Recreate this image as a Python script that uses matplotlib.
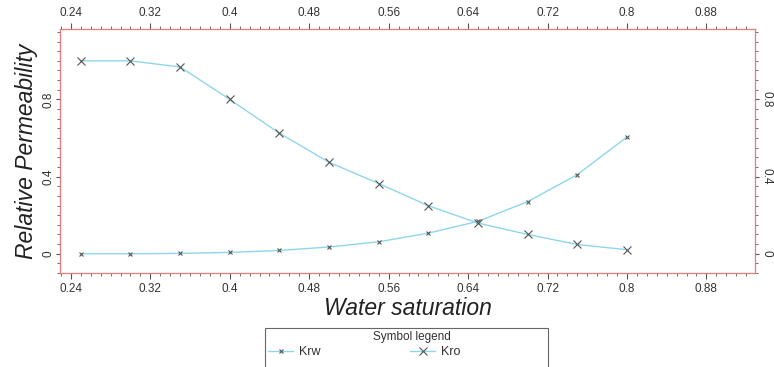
import matplotlib.pyplot as plt
from matplotlib.patches import Rectangle
from matplotlib.ticker import MultipleLocator

plt.rcParams["font.family"] = ["Liberation Sans", "DejaVu Sans"]

# Relative permeability table
sw = [0.25, 0.30, 0.35, 0.40, 0.45, 0.50, 0.55, 0.60, 0.65, 0.70, 0.75, 0.80]
krw = [0.0, 0.0, 0.002, 0.007, 0.017, 0.035, 0.062, 0.107, 0.168, 0.27, 0.41, 0.605]
kro = [1.0, 1.0, 0.968, 0.80, 0.625, 0.474, 0.364, 0.249, 0.159, 0.10, 0.048, 0.021]

line_color = "#8fd6ec"
mark_color = "#555555"
frame_color = "#e87a7a"
text_color = "#333333"

fig = plt.figure(figsize=(7.74, 3.67), dpi=100)
ax = fig.add_axes([0.0775, 0.256, 0.898, 0.665])

ax.plot(sw, krw, "-", color=line_color, linewidth=1.0, marker="x",
        markersize=2.5, markeredgecolor=mark_color, markeredgewidth=0.8, label="Krw")
ax.plot(sw, kro, "-", color=line_color, linewidth=1.0, marker="x",
        markersize=6, markeredgecolor=mark_color, markeredgewidth=0.8, label="Kro")

ax.set_xlim(0.229, 0.929)
ax.set_ylim(-0.10, 1.165)

ax.xaxis.set_major_locator(MultipleLocator(0.08))
ax.xaxis.set_minor_locator(MultipleLocator(0.01))
ax.yaxis.set_major_locator(MultipleLocator(0.4))
ax.yaxis.set_minor_locator(MultipleLocator(0.05))
ax.xaxis.set_major_formatter(plt.FuncFormatter(lambda v, p: f"{v:.2f}".rstrip("0")))
ax.yaxis.set_major_formatter(plt.FuncFormatter(lambda v, p: "0" if abs(v) < 1e-9 else f"{v:.1f}"))

ax.tick_params(which="both", direction="out", colors=mark_color, labelcolor=text_color,
               top=True, right=True, labeltop=True, labelright=True, labelsize=8.5)
ax.tick_params(which="major", length=4, width=0.8)
ax.tick_params(which="minor", length=2, width=0.6)
ax.tick_params(axis="y", which="major", length=3, pad=1)
for lbl in ax.get_yticklabels():
    lbl.set_rotation(90)
    lbl.set_va("center")
for t in ax.yaxis.get_major_ticks():
    t.label2.set_rotation(-90)
    t.label2.set_va("center")

for sp in ax.spines.values():
    sp.set_color(frame_color)
    sp.set_linewidth(0.9)

ax.set_xlabel("Water saturation", fontsize=16.5, style="italic", color="#222222", labelpad=1)
ax.set_ylabel("Relative Permeability", fontsize=16.5, style="italic", color="#222222", labelpad=3)

# symbol legend box under the x label
W, H = fig.bbox.width, fig.bbox.height
box = Rectangle((265 / W, -0.01), 283 / W, (H - 328) / H + 0.01, transform=fig.transFigure,
                facecolor="white", edgecolor="#666666", linewidth=0.8, zorder=-1)
fig.patches.append(box)
fig.text(412 / W, 1 - 337 / H, "Symbol legend", ha="center", va="center",
         fontsize=8.5, color=text_color)
leg = fig.legend(*ax.get_legend_handles_labels(), loc="upper left",
                 bbox_to_anchor=(268 / W, 1 - 346 / H), borderaxespad=0, borderpad=0,
                 ncol=2, fontsize=9, frameon=False, handlelength=2.0,
                 columnspacing=7.2, handletextpad=0.45)
for t in leg.get_texts():
    t.set_color(text_color)

fig.savefig("out.png", dpi=100)
